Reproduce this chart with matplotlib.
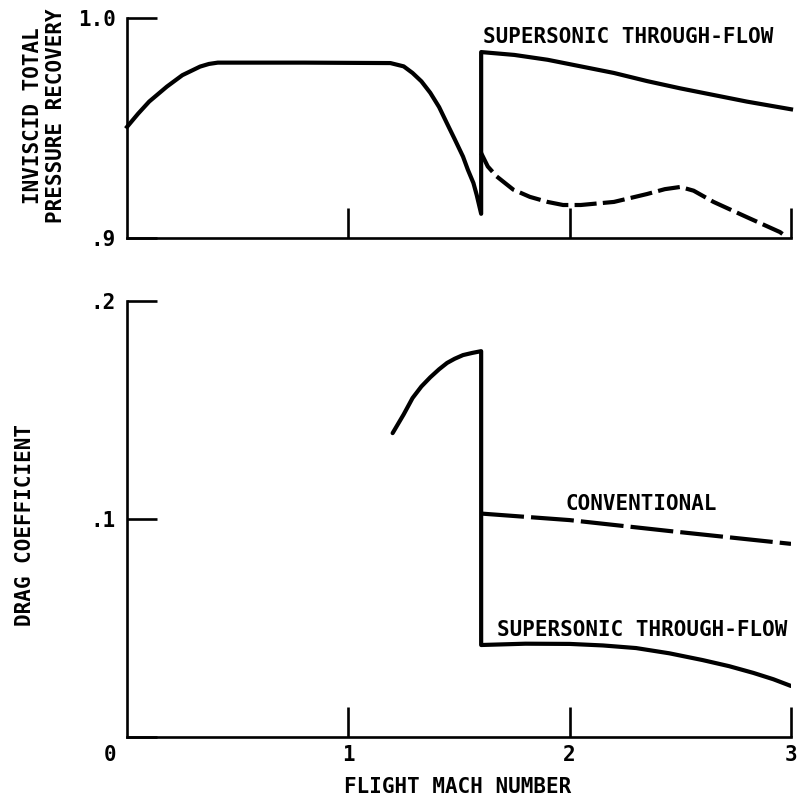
import matplotlib
matplotlib.use("Agg")
import matplotlib.pyplot as plt

# ── Fonts ─────────────────────────────────────────────────────────────────────
plt.rcParams.update({"font.family": "DejaVu Sans Mono", "font.weight": "bold",
                     "font.size": 15})

# ── Data ──────────────────────────────────────────────────────────────────────
# top panel, solid line: subsonic curve, jump at M=1.6, supersonic through-flow
rec_mach = [0.0, 0.05, 0.10, 0.18, 0.25, 0.33, 0.37, 0.41, 0.8, 1.19, 1.25,
            1.29, 1.33, 1.37, 1.41, 1.446, 1.48, 1.518, 1.54, 1.565, 1.58,
            1.6, 1.6, 1.75, 1.9, 2.05, 2.2, 2.35, 2.5, 2.65, 2.8, 3.0]
rec_solid = [0.9505, 0.9565, 0.962, 0.9688, 0.974, 0.9779, 0.9791, 0.9797,
             0.9797, 0.9795, 0.978, 0.975, 0.9712, 0.966, 0.9595, 0.952,
             0.945, 0.937, 0.931, 0.925, 0.9195, 0.911, 0.9845, 0.9832,
             0.981, 0.978, 0.975, 0.9713, 0.968, 0.965, 0.962, 0.9585]
# top panel, dashed line (conventional)
rec_dash_mach = [1.6, 1.63, 1.67, 1.745, 1.82, 1.9, 1.97, 2.05, 2.2, 2.35,
                 2.43, 2.5, 2.56, 2.65, 2.8, 2.95, 2.98]
rec_dash = [0.9386, 0.9325, 0.928, 0.922, 0.9187, 0.9164, 0.915, 0.915,
            0.9164, 0.920, 0.9222, 0.9232, 0.9215, 0.9164, 0.9095, 0.9027,
            0.9005]

# bottom panel
cd_mach = [1.2, 1.25, 1.29, 1.33, 1.37, 1.41, 1.446, 1.48, 1.518, 1.56, 1.6,
           1.6, 1.8, 2.0, 2.15, 2.3, 2.45, 2.6, 2.72, 2.83, 2.92, 3.0]
cd_solid = [0.1394, 0.148, 0.1555, 0.1608, 0.165, 0.1687, 0.1716, 0.1735,
            0.1752, 0.1762, 0.177, 0.0422, 0.0428, 0.0427, 0.0420, 0.0408,
            0.0384, 0.0353, 0.0325, 0.0294, 0.0265, 0.0234]
cd_conv_mach = [1.6, 2.0, 2.45, 3.0]
cd_conv = [0.1025, 0.0995, 0.0945, 0.0886]

x_ticks = [1, 2, 3]
x_ticklabels = ["1", "2", "3"]

LW = 3.0
AX_LW = 1.9

fig = plt.figure(figsize=(8.02, 8.09), dpi=100)
ax1 = fig.add_axes([0.1584, 0.7058, 0.8279, 0.2720])
ax2 = fig.add_axes([0.1584, 0.0890, 0.8279, 0.5389])


def style_ax(ax):
    ax.spines[["top", "right"]].set_visible(False)
    for s in ("left", "bottom"):
        ax.spines[s].set_linewidth(AX_LW)
    ax.set_xlim(0, 3)
    ax.tick_params(direction="in", length=21.5, width=AX_LW)
    ax.tick_params(axis="y", pad=8)
    ax.tick_params(axis="x", pad=6)


# ── Top panel ────────────────────────────────────────────────────────────────
style_ax(ax1)
ax1.plot(rec_mach, rec_solid, color="black", lw=LW, solid_joinstyle="round",
         clip_on=False)
ax1.plot(rec_dash_mach, rec_dash, color="black", lw=LW, dashes=(5.3, 1.5),
         clip_on=False)
ax1.set_ylim(0.9, 1.0)
ax1.set_yticks([0.9, 1.0])
ax1.set_yticklabels([".9", "1.0"])
ax1.set_xticks(x_ticks)
ax1.set_xticklabels([])
ax1.text(1.608, 0.9914, "SUPERSONIC THROUGH-FLOW", ha="left", va="center")
ax1.text(-0.1245, 0.5545, "INVISCID TOTAL\nPRESSURE RECOVERY", rotation=90,
         ha="center", va="center", transform=ax1.transAxes, linespacing=1.15)

# ── Bottom panel ─────────────────────────────────────────────────────────────
style_ax(ax2)
ax2.plot(cd_mach, cd_solid, color="black", lw=LW, solid_joinstyle="round",
         solid_capstyle="round")
ax2.plot(cd_conv_mach, cd_conv, color="black", lw=LW, dashes=(10.3, 1.7))
ax2.set_ylim(0, 0.2)
ax2.set_yticks([0, 0.1, 0.2])
ax2.set_yticklabels(["", ".1", ".2"])
ax2.set_xticks(x_ticks)
ax2.set_xticklabels(x_ticklabels)
ax2.annotate("0", xy=(0, 0), xycoords="data", xytext=(-12, -6),
             textcoords="offset points", ha="center", va="top")
ax2.text(1.98, 0.1071, "CONVENTIONAL", ha="left", va="center")
ax2.text(1.672, 0.0491, "SUPERSONIC THROUGH-FLOW", ha="left", va="center")
ax2.text(-0.1536, 0.486, "DRAG COEFFICIENT", rotation=90, ha="center",
         va="center", transform=ax2.transAxes)
ax2.text(0.4985, -0.1147, "FLIGHT MACH NUMBER", ha="center", va="center",
         transform=ax2.transAxes)

fig.savefig("out.png", dpi=100)
